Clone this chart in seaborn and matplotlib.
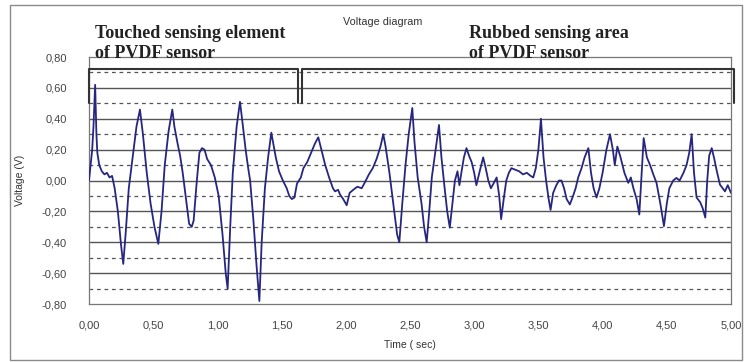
import matplotlib
matplotlib.use("Agg")
import matplotlib.pyplot as plt
import seaborn as sns
import numpy as np
from matplotlib.patches import Rectangle

# values
time_s = [
    0.000, 0.015, 0.025, 0.035, 0.048, 0.058, 0.065, 0.080, 0.100, 0.120,
    0.140, 0.160, 0.180, 0.200, 0.225, 0.250, 0.267, 0.285, 0.310, 0.340,
    0.370, 0.397, 0.420, 0.450, 0.480, 0.510, 0.540, 0.565, 0.590, 0.620,
    0.649, 0.665, 0.690, 0.710, 0.730, 0.760, 0.780, 0.800, 0.815, 0.840,
    0.860, 0.880, 0.900, 0.920, 0.950, 0.980, 1.010, 1.040, 1.065, 1.080,
    1.100, 1.120, 1.150, 1.176, 1.195, 1.220, 1.240, 1.255, 1.280, 1.305,
    1.327, 1.345, 1.370, 1.395, 1.420, 1.440, 1.455, 1.480, 1.510, 1.540,
    1.560, 1.580, 1.600, 1.620, 1.650, 1.670, 1.700, 1.730, 1.760, 1.786,
    1.810, 1.840, 1.870, 1.900, 1.916, 1.940, 1.955, 1.980, 2.007, 2.030,
    2.058, 2.090, 2.124, 2.150, 2.180, 2.210, 2.240, 2.270, 2.292, 2.310,
    2.340, 2.370, 2.400, 2.417, 2.440, 2.465, 2.490, 2.518, 2.535, 2.560,
    2.590, 2.610, 2.630, 2.650, 2.670, 2.700, 2.726, 2.745, 2.770, 2.790,
    2.810, 2.830, 2.850, 2.870, 2.885, 2.900, 2.920, 2.940, 2.960, 2.980,
    3.000, 3.017, 3.040, 3.070, 3.090, 3.110, 3.130, 3.150, 3.175, 3.195,
    3.210, 3.230, 3.250, 3.270, 3.290, 3.320, 3.350, 3.380, 3.410, 3.440,
    3.460, 3.480, 3.500, 3.520, 3.540, 3.560, 3.580, 3.595, 3.615, 3.640,
    3.660, 3.680, 3.700, 3.720, 3.745, 3.770, 3.790, 3.810, 3.836, 3.860,
    3.889, 3.910, 3.930, 3.953, 3.975, 4.000, 4.030, 4.058, 4.080, 4.095,
    4.115, 4.140, 4.170, 4.200, 4.220, 4.240, 4.265, 4.286, 4.305, 4.320,
    4.345, 4.370, 4.395, 4.420, 4.450, 4.478, 4.500, 4.520, 4.550, 4.575,
    4.600, 4.630, 4.654, 4.675, 4.694, 4.712, 4.732, 4.760, 4.780, 4.800,
    4.815, 4.830, 4.850, 4.870, 4.890, 4.914, 4.935, 4.953, 4.975, 5.000,
]
voltage = [
    0.00, 0.12, 0.20, 0.35, 0.62, 0.30, 0.18, 0.10, 0.06, 0.04,
    0.05, 0.02, 0.03, -0.05, -0.20, -0.42, -0.54, -0.35, -0.05, 0.15,
    0.35, 0.46, 0.30, 0.05, -0.15, -0.30, -0.41, -0.20, 0.10, 0.32,
    0.46, 0.35, 0.24, 0.16, 0.05, -0.15, -0.28, -0.30, -0.26, 0.00,
    0.18, 0.21, 0.20, 0.14, 0.10, 0.02, -0.10, -0.35, -0.60, -0.70,
    -0.30, 0.05, 0.35, 0.51, 0.38, 0.20, 0.08, 0.00, -0.25, -0.55,
    -0.78, -0.40, -0.05, 0.15, 0.31, 0.22, 0.15, 0.06, 0.00, -0.05,
    -0.10, -0.12, -0.11, -0.02, 0.02, 0.08, 0.12, 0.18, 0.24, 0.28,
    0.20, 0.10, 0.02, -0.05, -0.07, -0.06, -0.09, -0.12, -0.16, -0.08,
    -0.06, -0.04, -0.05, -0.01, 0.04, 0.08, 0.14, 0.22, 0.30, 0.22,
    0.05, -0.15, -0.35, -0.40, -0.15, 0.10, 0.30, 0.47, 0.25, 0.02,
    -0.15, -0.30, -0.40, -0.20, 0.02, 0.20, 0.36, 0.15, -0.05, -0.20,
    -0.305, -0.15, 0.00, 0.06, -0.03, 0.05, 0.15, 0.21, 0.16, 0.12,
    0.05, -0.03, 0.05, 0.15, 0.08, 0.00, -0.05, -0.02, 0.02, -0.10,
    -0.25, -0.12, 0.00, 0.05, 0.08, 0.07, 0.06, 0.04, 0.05, 0.03,
    0.02, 0.08, 0.20, 0.40, 0.15, 0.00, -0.12, -0.19, -0.08, -0.03,
    0.00, 0.00, -0.05, -0.12, -0.155, -0.10, -0.05, 0.02, 0.08, 0.15,
    0.21, 0.05, -0.05, -0.11, -0.05, 0.05, 0.20, 0.30, 0.20, 0.10,
    0.22, 0.15, 0.05, -0.015, 0.02, -0.05, -0.12, -0.22, 0.05, 0.275,
    0.15, 0.10, 0.04, -0.015, -0.15, -0.295, -0.15, -0.05, 0.00, 0.017,
    0.00, 0.05, 0.10, 0.18, 0.30, 0.05, -0.11, -0.14, -0.18, -0.24,
    0.00, 0.16, 0.21, 0.14, 0.06, -0.026, -0.05, -0.07, -0.03, -0.08,
]

x_ticks = [0.0, 0.5, 1.0, 1.5, 2.0, 2.5, 3.0, 3.5, 4.0, 4.5, 5.0]
y_ticks = [-0.8, -0.6, -0.4, -0.2, 0.0, 0.2, 0.4, 0.6, 0.8]
solid_grid = [-0.6, -0.4, -0.2, 0.0, 0.2, 0.4, 0.6]
dashed_grid = [-0.7, -0.5, -0.3, -0.1, 0.1, 0.3, 0.5, 0.7]

# annotation brackets: (start, end) in seconds
touched_span = (0.0, 1.628)
rubbed_span = (1.659, 5.02)
bracket_top = 0.72
bracket_bottom = 0.50

sns.set_style("white")
plt.rcParams["font.family"] = ["Liberation Sans", "DejaVu Sans"]

fig = plt.figure(figsize=(7.44, 3.62), dpi=100)
ax = fig.add_axes([0.1196, 0.160, 0.8629, 0.6825])

# outer chart frame
fig.patches.append(Rectangle((10 / 744, 2 / 362), 732 / 744, 355 / 362,
                             transform=fig.transFigure, fill=False,
                             edgecolor="#8a8a8a", linewidth=1.0))

for g in solid_grid:
    ax.axhline(g, color="#555555", linewidth=1.0, zorder=1)
for g in dashed_grid:
    ax.axhline(g, color="#555555", linewidth=0.9, linestyle=(0, (3, 3)), zorder=1)

sns.lineplot(x=time_s, y=voltage, ax=ax, color="#262680", linewidth=1.3,
             zorder=3, estimator=None, sort=False)

for start, end in [touched_span, rubbed_span]:
    ax.plot([start, start, end, end],
            [bracket_bottom, bracket_top, bracket_top, bracket_bottom],
            color="#333333", linewidth=1.5, clip_on=False, zorder=4)

ax.set_xlim(0, 5)
ax.set_ylim(-0.8, 0.8)
ax.set_xticks(x_ticks)
ax.set_yticks(y_ticks)
ax.set_xticklabels([f"{t:.2f}".replace(".", ",") for t in x_ticks])
ax.set_yticklabels([f"{v:.2f}".replace(".", ",") for v in y_ticks])
ax.tick_params(axis="x", direction="in", length=4, color="#777777",
               labelsize=8, labelcolor="#444444", pad=12)
ax.tick_params(axis="y", length=0, labelsize=8, labelcolor="#444444", pad=16)

for side in ["left", "bottom", "right", "top"]:
    ax.spines[side].set_color("#777777")
    ax.spines[side].set_linewidth(0.9)

ax.set_xlabel("Time ( sec)", fontsize=7.5, color="#333333", labelpad=7)
ax.set_ylabel("Voltage (V)", fontsize=7.5, color="#333333", labelpad=12)

fig.text(0.515, 0.94, "Voltage diagram", fontsize=7.8, color="#333333",
         ha="center", va="center")

fig.text(0.128, 0.93, "Touched sensing element\nof PVDF sensor",
         family=["Liberation Serif", "DejaVu Serif"], fontweight="bold",
         fontsize=13, color="#222222", ha="left", va="top", linespacing=1.22)
fig.text(0.630, 0.93, "Rubbed sensing area\nof PVDF sensor",
         family=["Liberation Serif", "DejaVu Serif"], fontweight="bold",
         fontsize=13, color="#222222", ha="left", va="top", linespacing=1.22)

fig.savefig("out.png", dpi=100)
